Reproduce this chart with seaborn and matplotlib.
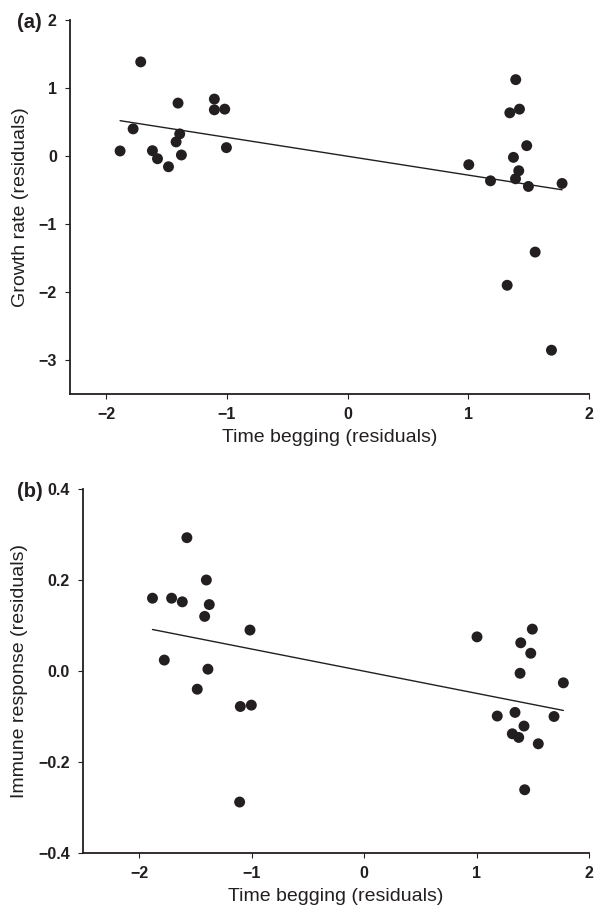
"""Begging time vs growth rate and immune response (residuals), two stacked panels."""
import matplotlib
matplotlib.use("Agg")
import matplotlib.pyplot as plt
import seaborn as sns
import pandas as pd

# --- Panel (a): growth rate residuals ---
time_a = [-1.885, -1.777, -1.714, -1.617, -1.575, -1.484, -1.405, -1.421, -1.391, -1.377,
          -1.104, -1.104, -1.018, -1.004,
          1.393, 1.344, 1.424, 1.484, 1.374, 1.004, 1.418, 1.391, 1.184, 1.498, 1.777,
          1.554, 1.322, 1.689]
growth_a = [0.074, 0.399, 1.384, 0.078, -0.040, -0.158, 0.778, 0.207, 0.325, 0.015,
            0.837, 0.679, 0.689, 0.123,
            1.123, 0.635, 0.689, 0.152, -0.020, -0.128, -0.217, -0.335, -0.365, -0.448, -0.404,
            -1.413, -1.901, -2.856]

# --- Panel (b): immune response residuals ---
time_b = [-1.882, -1.712, -1.617, -1.576, -1.403, -1.377, -1.418, -1.015,
          -1.777, -1.389, -1.484, -1.101, -1.003, -1.107,
          1.004, 1.393, 1.482, 1.387, 1.772, 1.184, 1.342, 1.689, 1.422, 1.318, 1.375,
          1.549, 1.428, 1.496]
immune_b = [0.160, 0.160, 0.152, 0.293, 0.200, 0.146, 0.120, 0.090,
            0.024, 0.004, -0.040, -0.078, -0.075, -0.288,
            0.075, 0.062, 0.039, -0.005, -0.026, -0.099, -0.091, -0.100, -0.121, -0.138, -0.146,
            -0.160, -0.261, 0.092]

x_ticks = [-2, -1, 0, 1, 2]
y_ticks_a = [-3, -2, -1, 0, 1, 2]
y_ticks_b = [-0.4, -0.2, 0.0, 0.2, 0.4]

sns.set_theme(style="ticks")
plt.rcParams["font.family"] = ["Liberation Sans", "DejaVu Sans"]

INK = "#231f20"

fig = plt.figure(figsize=(5.98, 9.08), dpi=100)
ax_a = fig.add_axes([70 / 598, 1 - 394 / 908, 519 / 598, 374 / 908])
ax_b = fig.add_axes([83 / 598, 1 - 853 / 908, 506 / 598, 364 / 908])

panels = [
    (ax_a, pd.DataFrame({"x": time_a, "y": growth_a}), "Growth rate (residuals)",
     (-2.3, 2), (-3.5, 2), y_ticks_a, "{:.0f}"),
    (ax_b, pd.DataFrame({"x": time_b, "y": immune_b}), "Immune response (residuals)",
     (-2.5, 2), (-0.4, 0.4), y_ticks_b, "{:.1f}"),
]

for ax, df, ylab, xlim, ylim, yticks, fmt in panels:
    # fitted line over the data range, then the points on top
    sns.regplot(data=df, x="x", y="y", scatter=False, ci=None, ax=ax,
                line_kws={"color": INK, "lw": 1.0})
    sns.scatterplot(data=df, x="x", y="y", ax=ax, s=62, color=INK,
                    edgecolor="none", linewidth=0, zorder=3)
    ax.set_xlim(*xlim)
    ax.set_ylim(*ylim)
    ax.set_xticks(x_ticks)
    ax.set_yticks(yticks)
    ax.set_xticklabels([f"{t}".replace("-", "\u2212") for t in x_ticks])
    ax.set_yticklabels([fmt.format(t).replace("-", "\u2212") for t in yticks])
    for lab in ax.get_xticklabels() + ax.get_yticklabels():
        lab.set_fontweight("bold")
        lab.set_fontsize(11.5)
        lab.set_color(INK)
    ax.tick_params(length=3.5, width=0.8, color=INK, pad=6)
    ax.set_xlabel("Time begging (residuals)", fontsize=14, color=INK, labelpad=5)
    ax.set_ylabel(ylab, fontsize=14, color=INK, labelpad=7)
    for side in ["left", "bottom"]:
        ax.spines[side].set_linewidth(1.3)
        ax.spines[side].set_color(INK)
    sns.despine(ax=ax)

fig.text(17 / 598, 1 - 22 / 908, "(a)", fontsize=14.5, fontweight="bold", color=INK, va="center")
fig.text(17 / 598, 1 - 491 / 908, "(b)", fontsize=14.5, fontweight="bold", color=INK, va="center")

fig.savefig("out.png", dpi=100)
